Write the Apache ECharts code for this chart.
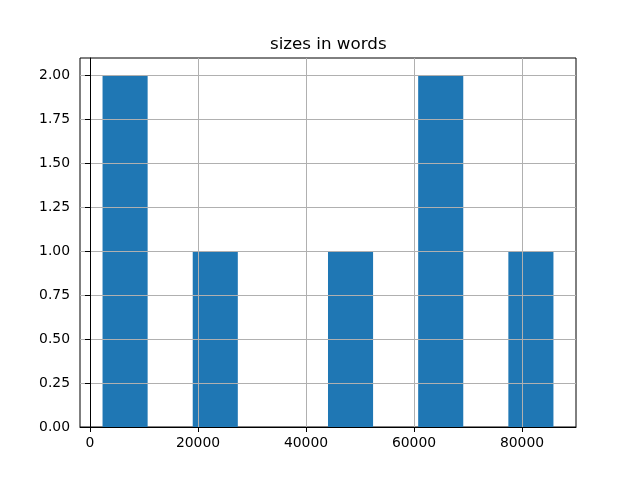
<!DOCTYPE html>
<html><head><meta charset="utf-8">
<script src="https://cdn.jsdelivr.net/npm/echarts@6/dist/echarts.min.js"></script>
<style>html,body{margin:0;padding:0;background:#fff}#c{width:640px;height:480px}</style>
</head><body><div id="c"></div>
<script>
const titleText = 'sizes in words';
const binEdges = [2323, 10673, 19023, 27373, 35723, 44073, 52423, 60773, 69123, 77473, 85823];
const counts = [2, 0, 1, 0, 0, 1, 0, 2, 0, 1];
const xTicks = [0, 20000, 40000, 60000, 80000];
const yTicks = [0, 0.25, 0.5, 0.75, 1.0, 1.25, 1.5, 1.75, 2.0];

const barData = counts.map((c, i) => [binEdges[i], binEdges[i + 1], c]);
const font = 'DejaVu Sans';
const chart = echarts.init(document.getElementById('c'), null, {renderer: 'canvas'});
chart.setOption({
  animation: false,
  title: {text: titleText, left: 270, top: 36, padding: 0,
    textStyle: {fontFamily: font, fontSize: 16.7, fontWeight: 'normal', color: '#000'}},
  grid: {left: 80, right: 64, top: 58, bottom: 53, show: true, borderColor: '#000', borderWidth: 1, backgroundColor: 'transparent'},
  xAxis: {type: 'value', min: -1852, max: 90000, z: 10,
    axisLine: {show: true, onZero: false, lineStyle: {color: '#000', width: 1}},
    axisTick: {show: true, length: 5, customValues: xTicks, lineStyle: {color: '#000', width: 1}},
    axisLabel: {customValues: xTicks, formatter: v => String(v), margin: 9, fontFamily: font, fontSize: 13.9, color: '#000'},
    splitLine: {show: true, lineStyle: {color: '#b0b0b0', width: 1}}},
  yAxis: {type: 'value', min: 0, max: 2.1, z: 10,
    axisLine: {show: true, lineStyle: {color: '#000', width: 1}},
    axisTick: {show: true, length: 5, customValues: yTicks, lineStyle: {color: '#000', width: 1}},
    axisLabel: {customValues: yTicks, formatter: v => v.toFixed(2), margin: 10, fontFamily: font, fontSize: 13.9, color: '#000'},
    splitLine: {show: true, lineStyle: {color: '#b0b0b0', width: 1}}},
  series: [{
    type: 'custom', z: 1,
    data: barData,
    encode: {x: [0, 1], y: 2},
    renderItem: function (params, api) {
      const p0 = api.coord([api.value(0), api.value(2)]);
      const p1 = api.coord([api.value(1), 0]);
      return {type: 'rect', shape: {x: p0[0], y: p0[1], width: p1[0] - p0[0], height: p1[1] - p0[1]},
        style: {fill: '#1f77b4'}};
    }
  }]
});
</script></body></html>
